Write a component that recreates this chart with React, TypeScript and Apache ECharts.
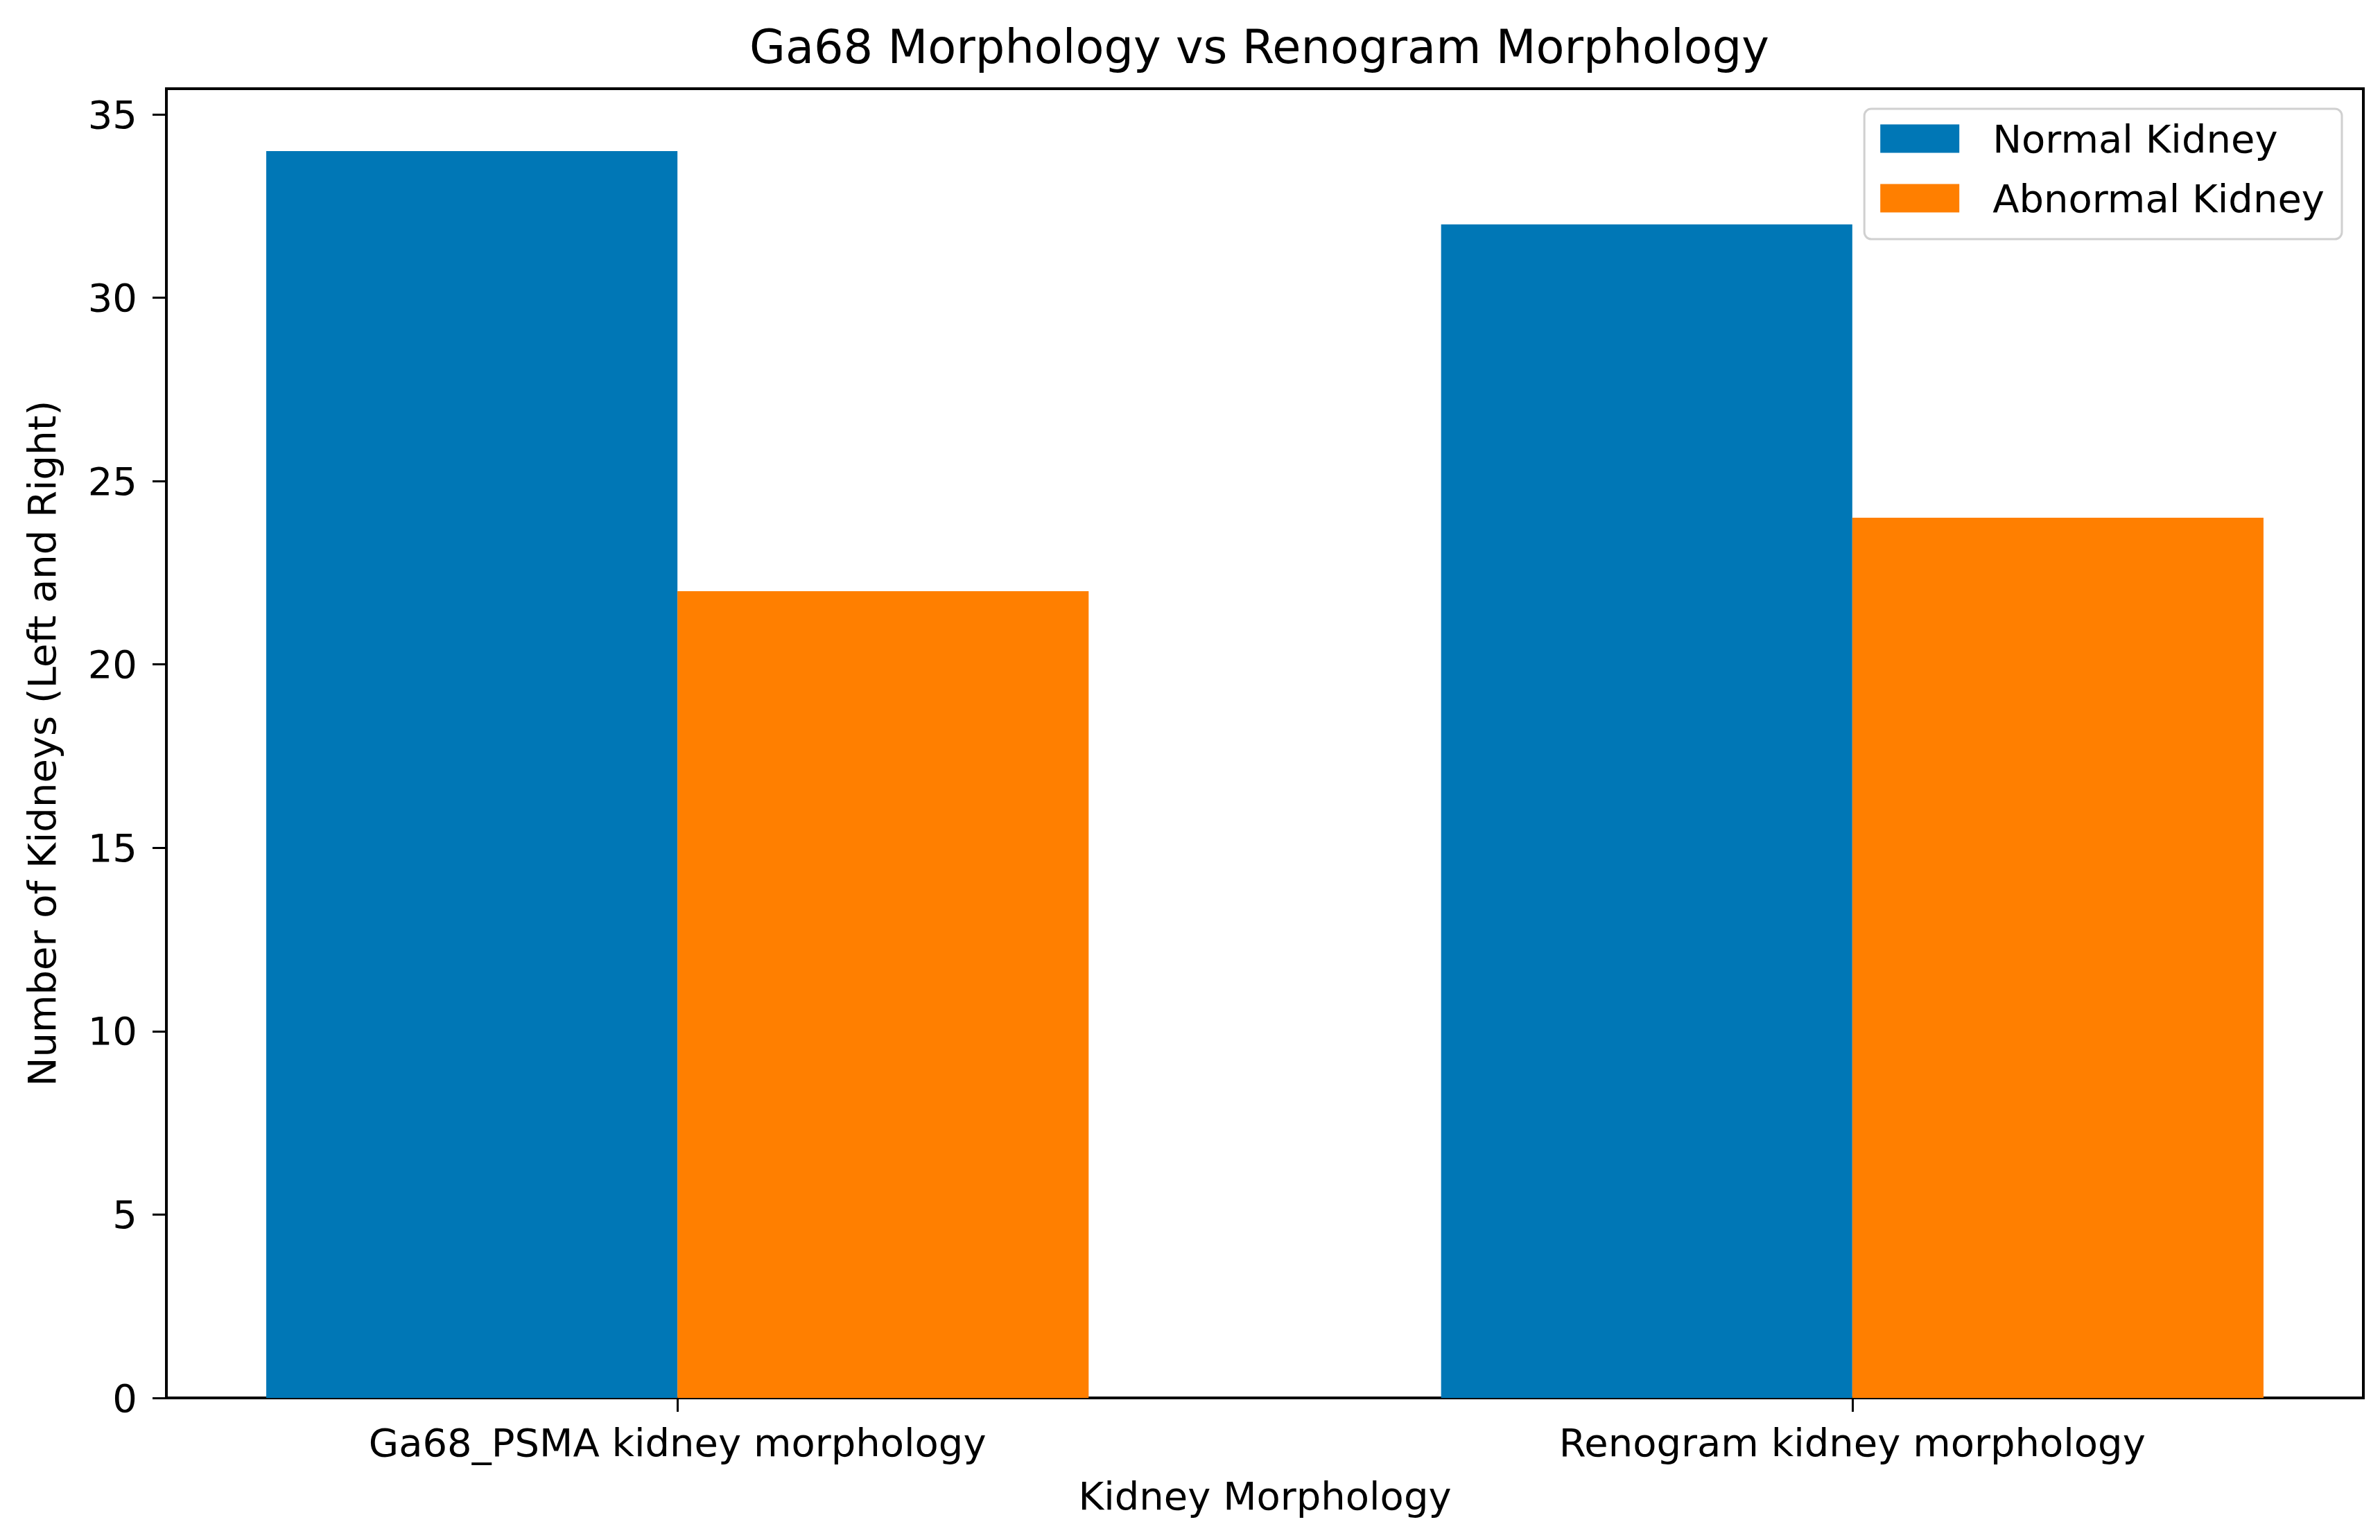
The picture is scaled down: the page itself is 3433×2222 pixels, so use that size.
import React, { useEffect, useRef } from "react";
import * as echarts from "echarts";

const categories = ["Ga68_PSMA kidney morphology", "Renogram kidney morphology"];
const normalKidney = [34, 32];
const abnormalKidney = [22, 24];
const yTicks = [0, 5, 10, 15, 20, 25, 30, 35];
const seriesNames = ["Normal Kidney", "Abnormal Kidney"];
const seriesColors = ["#0077b6", "#ff7f00"];

export default function App() {
  const ref = useRef<HTMLDivElement>(null);
  useEffect(() => {
    document.body.style.margin = "0";
    const chart = echarts.init(ref.current!, null, { renderer: "svg" });
    const font = "'DejaVu Sans', sans-serif";
    const BAR = 0.35;
    const makeRender = (offset: number) => (params: any, api: any) => {
      const x = api.value(0);
      const v = api.value(1);
      const p0 = api.coord([x + offset, v]);
      const p1 = api.coord([x + offset + BAR, 0]);
      return {
        type: "rect",
        shape: { x: p0[0], y: p0[1], width: p1[0] - p0[0], height: p1[1] - p0[1] },
        style: { fill: api.visual("color") },
      };
    };
    const catIdx = categories.map((_, i) => i);
    chart.setOption({
      animation: false,
      backgroundColor: "#ffffff",
      textStyle: { fontFamily: font, color: "#000" },
      title: {
        text: "Ga68 Morphology vs Renogram Morphology",
        left: 1081,
        top: 34,
        padding: 0,
        textStyle: { fontFamily: font, fontSize: 67, fontWeight: "normal", color: "#000" },
      },
      legend: {
        orient: "vertical",
        right: 55,
        top: 157,
        data: seriesNames.map((n) => ({ name: n, icon: "rect" })),
        itemWidth: 114,
        itemHeight: 41,
        itemGap: 30,
        padding: [15, 25, 31, 23],
        borderColor: "#d0d0d0",
        borderWidth: 3,
        borderRadius: 10,
        backgroundColor: "rgba(255,255,255,0.8)",
        textStyle: { fontFamily: font, fontSize: 56, color: "#000", padding: [0, 0, 0, 43] },
      },
      grid: {
        left: 240,
        right: 24,
        top: 128,
        bottom: 205,
        show: true,
        borderColor: "#000",
        borderWidth: 4,
        backgroundColor: "transparent",
      },
      xAxis: {
        type: "value",
        min: -0.435,
        max: 1.435,
        name: "Kidney Morphology",
        nameLocation: "middle",
        nameGap: 113,
        nameTextStyle: { fontFamily: font, fontSize: 56, color: "#000" },
        axisLine: { show: true, onZero: false, lineStyle: { color: "#000", width: 4 } },
        axisTick: { show: true, length: 20, lineStyle: { color: "#000", width: 3 }, customValues: catIdx },
        axisLabel: {
          customValues: catIdx,
          margin: 36,
          fontFamily: font,
          fontSize: 56,
          color: "#000",
          formatter: (v: number) => categories[Math.round(v)] ?? "",
        },
        splitLine: { show: false },
      },
      yAxis: {
        type: "value",
        min: 0,
        max: 35.7,
        name: "Number of Kidneys (Left and Right)",
        nameLocation: "middle",
        nameGap: 152,
        nameTextStyle: { fontFamily: font, fontSize: 56, color: "#000" },
        axisLine: { show: true, onZero: false, lineStyle: { color: "#000", width: 4 } },
        axisTick: { show: true, length: 20, lineStyle: { color: "#000", width: 3 }, customValues: yTicks },
        axisLabel: { customValues: yTicks, margin: 42, fontFamily: font, fontSize: 56, color: "#000" },
        splitLine: { show: false },
      },
      series: [
        {
          name: seriesNames[0],
          type: "custom",
          itemStyle: { color: seriesColors[0] },
          renderItem: makeRender(-BAR),
          encode: { x: 0, y: 1 },
          data: catIdx.map((i) => [i, normalKidney[i]]),
        },
        {
          name: seriesNames[1],
          type: "custom",
          itemStyle: { color: seriesColors[1] },
          renderItem: makeRender(0),
          encode: { x: 0, y: 1 },
          data: catIdx.map((i) => [i, abnormalKidney[i]]),
        },
      ],
    });
    return () => chart.dispose();
  }, []);
  return <div ref={ref} style={{ width: 3433, height: 2222 }} />;
}
